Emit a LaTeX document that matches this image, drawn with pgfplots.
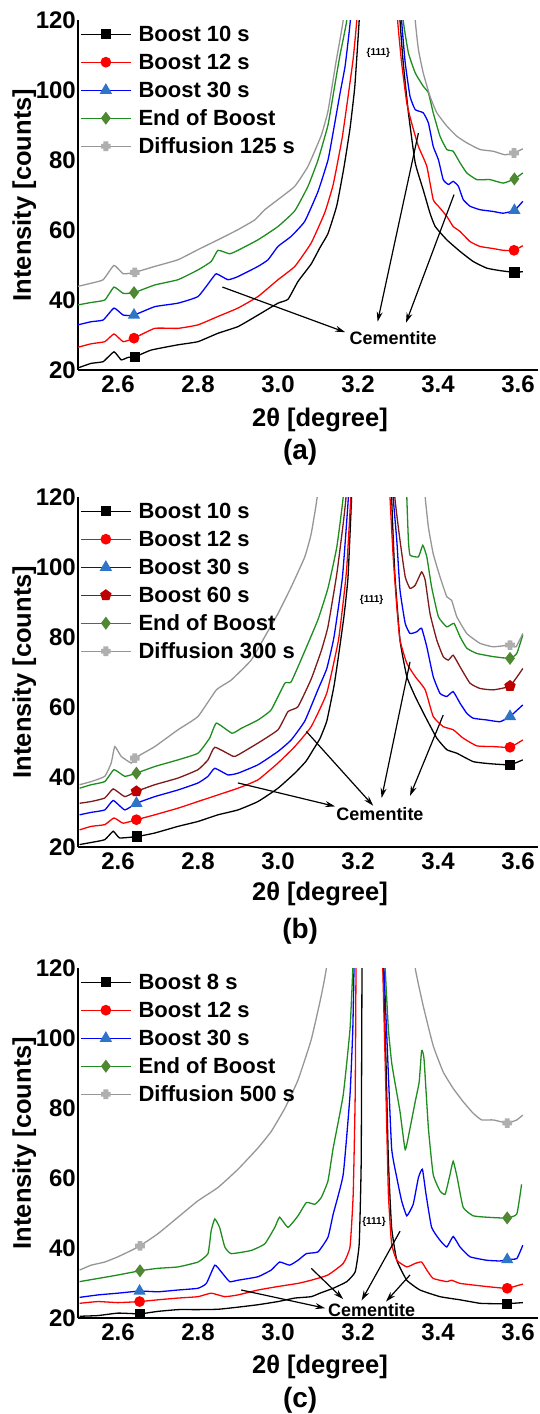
\documentclass[border=0pt]{standalone}
\usepackage{fontspec}
\setmainfont{Liberation Sans}
\usepackage{pgfplots}
\pgfplotsset{compat=1.18}
\usetikzlibrary{arrows.meta}
\definecolor{cred}{RGB}{255,0,0}
\definecolor{cblue}{RGB}{0,0,255}
\definecolor{ctri}{RGB}{46,117,200}
\definecolor{cgreen}{RGB}{30,140,30}
\definecolor{cdia}{RGB}{80,135,50}
\definecolor{cgray}{RGB}{150,150,150}
\definecolor{cgraym}{RGB}{175,175,175}
\definecolor{cdred}{RGB}{125,25,25}
\definecolor{cpent}{RGB}{190,0,0}
\pgfdeclareplotmark{fatplus}{%
 \pgfpathrectangle{\pgfqpoint{-\pgfplotmarksize}{-0.5\pgfplotmarksize}}{\pgfqpoint{2\pgfplotmarksize}{\pgfplotmarksize}}%
 \pgfpathrectangle{\pgfqpoint{-0.5\pgfplotmarksize}{-\pgfplotmarksize}}{\pgfqpoint{\pgfplotmarksize}{2\pgfplotmarksize}}%
 \pgfusepathqfill}
\tikzset{ar/.style={-{Stealth[length=10pt,width=6pt]},line width=1.2pt,black}}
\pgfplotsset{
 sK/.style={black,line width=1.3pt,mark=square*,mark size=4.5pt,mark options={fill=black,draw=black}},
 sR/.style={cred,line width=1.3pt,mark=*,mark size=4.7pt,mark options={fill=cred,draw=cred}},
 sB/.style={cblue,line width=1.3pt,mark=triangle*,mark size=5.8pt,mark options={fill=ctri,draw=ctri}},
 sG/.style={cgreen,line width=1.3pt,mark=diamond*,mark size=5.5pt,mark options={fill=cdia,draw=cdia}},
 sY/.style={cgray,line width=1.3pt,mark=fatplus,mark size=4.8pt,mark options={fill=cgraym,draw=cgraym}},
 sD/.style={cdred,line width=1.3pt,mark=pentagon*,mark size=5.2pt,mark options={fill=cpent,draw=cpent}},
 ln/.style={mark=none,forget plot,smooth,tension=0.25},
 panel/.style={width=460pt,height=350pt,scale only axis,clip mode=individual,
  xmin=2.5,xmax=3.65,ymin=20,ymax=120,
  axis lines=left, axis line style={-,line width=1.3pt,black},
  xtick={2.6,2.8,3.0,3.2,3.4,3.6}, ytick={20,40,60,80,100,120},
  major tick length=0pt,
  /pgf/number format/assume math mode=true,
  tick label style={font=\bfseries\fontsize{24}{28}\selectfont},
  xticklabel style={/pgf/number format/fixed,/pgf/number format/fixed zerofill,/pgf/number format/precision=1,inner sep=2pt,yshift=-4pt},
  yticklabel style={inner sep=2pt},
  label style={font=\bfseries\fontsize{25.5}{30}\selectfont},
  ylabel={Intensity [counts]},
  ylabel style={at={(axis description cs:-0.117,0.5)},anchor=center},
  xlabel={2θ [degree]},
  legend style={at={(axis description cs:0,1)},anchor=north west,xshift=2pt,yshift=-6pt,
   draw=none,fill=none,inner sep=0pt,row sep=12pt,
   font=\bfseries\fontsize{22}{26}\selectfont,
   nodes={inner sep=0pt,text height=15pt,text depth=1pt},
   /tikz/every odd column/.append style={column sep=7pt}},
  legend cell align=left,
  legend image code/.code={\draw[mark repeat=2,mark phase=2,##1] plot coordinates {(0pt,0pt) (25pt,0pt) (50pt,0pt)};},
 },
}
\begin{document}
\begin{tikzpicture}
\path[use as bounding box] (0pt,0pt) rectangle (539pt,-1414pt);
% ---------------- (a)
\begin{axis}[panel, at={(78pt,-370pt)}, anchor=south west,
  xlabel style={at={(axis description cs:0.526,-0.143)},anchor=center}]
\addlegendimage{sK}\addlegendimage{sR}\addlegendimage{sB}\addlegendimage{sG}\addlegendimage{sY}
\legend{Boost 10 s,Boost 12 s,Boost 30 s,End of Boost,Diffusion 125 s}
\addplot[sK,ln] coordinates {(2.5,20.6) (2.533,21.9) (2.563,22.4) (2.59,25.2) (2.608,22.9) (2.625,23.6) (2.643,23.8) (2.683,25.7) (2.75,27.2) (2.8,28.1) (2.85,30.5) (2.9,32.4) (2.95,35.7) (3.0,39.1) (3.025,40.2) (3.05,45.3) (3.083,50.3) (3.105,55) (3.125,59) (3.147,67) (3.165,78) (3.18,89) (3.192,101) (3.203,120) (3.207,132)};
\addplot[sK,ln] coordinates {(3.303,132) (3.305,120) (3.313,107.8) (3.326,93.5) (3.343,79.2) (3.363,71.5) (3.38,64.8) (3.393,61) (3.422,57.2) (3.455,53.9) (3.488,51) (3.522,49.1) (3.555,48.4) (3.591,47.9) (3.612,48.1)};
\addplot[sR,ln] coordinates {(2.5,26.5) (2.533,27.5) (2.567,28.1) (2.59,30.3) (2.613,28.1) (2.64,29.1) (2.692,31.9) (2.75,31.9) (2.8,32.9) (2.85,35.3) (2.9,37.7) (2.95,41) (3.0,45.8) (3.042,49.6) (3.083,56.3) (3.117,65) (3.138,73) (3.16,86) (3.175,98) (3.188,109) (3.197,120) (3.201,132)};
\addplot[sR,ln] coordinates {(3.297,132) (3.299,120) (3.309,107.8) (3.322,96.3) (3.334,90.6) (3.351,83.9) (3.372,78.2) (3.388,68.7) (3.401,66.8) (3.422,63.9) (3.438,61) (3.455,59.6) (3.48,56.7) (3.505,55.3) (3.538,54.7) (3.563,54.2) (3.59,54.2) (3.612,55.5)};
\addplot[sB,ln] coordinates {(2.5,32.9) (2.533,33.8) (2.563,34.3) (2.59,37.7) (2.613,35.7) (2.64,35.7) (2.692,38.1) (2.75,39.1) (2.8,41) (2.833,45.8) (2.846,47.5) (2.875,45.8) (2.9,46.7) (2.95,49.6) (2.975,51.5) (3.0,55.3) (3.033,58.2) (3.067,62.5) (3.1,71) (3.125,80) (3.138,88) (3.155,99) (3.168,107) (3.181,120) (3.185,132)};
\addplot[sB,ln] coordinates {(3.307,132) (3.309,120) (3.318,107.8) (3.33,98.2) (3.343,94.4) (3.363,93.5) (3.376,90.6) (3.388,83.9) (3.401,80.1) (3.413,74.4) (3.426,73) (3.438,73.9) (3.451,72.5) (3.463,68.7) (3.48,66.8) (3.505,65.8) (3.538,65.3) (3.563,64.8) (3.591,65.6) (3.612,68.2)};
\addplot[sG,ln] coordinates {(2.5,38.6) (2.533,39.3) (2.567,40) (2.59,43.7) (2.613,41.9) (2.64,42.1) (2.692,44.3) (2.75,45.8) (2.8,48.6) (2.833,51) (2.85,54.2) (2.879,53.2) (2.9,54.2) (2.95,57.2) (3.0,61) (3.042,65.5) (3.075,72.5) (3.1,80) (3.125,90) (3.14,100) (3.155,110) (3.172,120) (3.176,132)};
\addplot[sG,ln] coordinates {(3.311,132) (3.313,120) (3.326,110.6) (3.343,104.9) (3.363,101.1) (3.376,99.2) (3.388,93.5) (3.405,86.8) (3.422,83) (3.438,82.5) (3.455,79.2) (3.472,76.3) (3.497,74.4) (3.53,74.4) (3.563,73.4) (3.591,74.6) (3.612,76.3)};
\addplot[sY,ln] coordinates {(2.5,43.9) (2.533,44.8) (2.563,45.8) (2.59,49.9) (2.613,47.5) (2.642,47.9) (2.692,49.6) (2.75,51.5) (2.8,54.4) (2.85,57.2) (2.9,60.1) (2.942,62.9) (2.967,65.8) (3.0,68.7) (3.042,72.5) (3.075,78.2) (3.108,87) (3.125,94) (3.145,108) (3.163,120) (3.167,132)};
\addplot[sY,ln] coordinates {(3.339,132) (3.343,120) (3.351,111.6) (3.363,104.9) (3.38,98.2) (3.397,93.5) (3.422,89.7) (3.447,86.8) (3.472,84.9) (3.505,83) (3.538,82.5) (3.567,81.5) (3.59,82) (3.612,83.2)};
\addplot[sK,only marks,forget plot] coordinates {(2.643,23.8) (3.591,47.9)};
\addplot[sR,only marks,forget plot] coordinates {(2.64,29.1) (3.59,54.2)};
\addplot[sB,only marks,forget plot] coordinates {(2.64,35.7) (3.591,65.6)};
\addplot[sG,only marks,forget plot] coordinates {(2.64,42.1) (3.591,74.6)};
\addplot[sY,only marks,forget plot] coordinates {(2.642,47.9) (3.59,82)};
\node[font=\bfseries\fontsize{10}{12}\selectfont] at (axis cs:3.251,110.5) {\{111\}};
\node[font=\bfseries\fontsize{18}{21}\selectfont] at (axis cs:3.288,29.1) {Cementite};
\draw[ar] (axis cs:2.861,43.7) -- (axis cs:3.168,30.8);
\draw[ar] (axis cs:3.351,87.7) -- (axis cs:3.249,33.8);
\draw[ar] (axis cs:3.44,70.1) -- (axis cs:3.32,33.5);
\node[font=\bfseries\fontsize{28}{33}\selectfont] at (axis description cs:0.483,-0.234) {(a)};
\end{axis}
% ---------------- (b)
\begin{axis}[panel, at={(78pt,-847pt)}, anchor=south west,
  xlabel style={at={(axis description cs:0.526,-0.134)},anchor=center}]
\addlegendimage{sK}\addlegendimage{sR}\addlegendimage{sB}\addlegendimage{sD}\addlegendimage{sG}\addlegendimage{sY}
\legend{Boost 10 s,Boost 12 s,Boost 30 s,Boost 60 s,End of Boost,Diffusion 300 s}
\addplot[sK,ln] coordinates {(2.504,20.7) (2.533,21.3) (2.567,22.1) (2.588,24.5) (2.604,22.6) (2.648,23) (2.692,24) (2.75,25.9) (2.8,27.3) (2.85,29.2) (2.9,30.6) (2.95,33) (3.0,36.8) (3.042,41.1) (3.07,44.5) (3.088,47.8) (3.105,51) (3.122,56) (3.14,66) (3.151,74.4) (3.165,86) (3.175,97) (3.184,120) (3.187,132)};
\addplot[sK,ln] coordinates {(3.282,132) (3.284,120) (3.292,98.1) (3.305,79.1) (3.322,68.7) (3.343,63) (3.368,57.3) (3.397,51.1) (3.422,47.8) (3.447,46.8) (3.488,44.4) (3.53,43.8) (3.58,43.5) (3.612,44.9)};
\addplot[sR,ln] coordinates {(2.504,24.9) (2.533,25.9) (2.567,26.4) (2.59,28.3) (2.613,26.8) (2.646,27.8) (2.692,29.2) (2.75,31.1) (2.8,33) (2.85,34.9) (2.9,36.8) (2.95,39.2) (3.0,44) (3.042,48.7) (3.083,54.4) (3.122,64) (3.151,79) (3.165,92) (3.172,100) (3.182,120) (3.185,132)};
\addplot[sR,ln] coordinates {(3.278,132) (3.28,120) (3.288,102.9) (3.297,88.6) (3.305,79.1) (3.322,72.5) (3.343,68.7) (3.368,64.9) (3.388,57.3) (3.413,54.4) (3.438,53.5) (3.463,51.1) (3.497,48.9) (3.538,48.7) (3.58,48.5) (3.612,50.6)};
\addplot[sB,ln] coordinates {(2.504,29.2) (2.533,29.9) (2.567,30.6) (2.588,33.3) (2.617,30.6) (2.646,32.5) (2.692,34.4) (2.75,36.3) (2.8,38.3) (2.825,40.2) (2.842,42.5) (2.875,40.6) (2.9,41.1) (2.95,43.5) (3.0,47.3) (3.033,50.6) (3.067,56) (3.1,65) (3.122,71) (3.14,80) (3.161,97) (3.176,120) (3.179,132)};
\addplot[sB,ln] coordinates {(3.286,132) (3.288,120) (3.297,107.6) (3.305,93.4) (3.318,83.9) (3.33,81) (3.347,81.5) (3.359,82.5) (3.372,77.2) (3.388,68.7) (3.405,63.9) (3.422,63) (3.438,64.4) (3.455,61.1) (3.472,58.2) (3.488,56.8) (3.522,56.3) (3.555,55.8) (3.58,57.3) (3.612,60.6)};
\addplot[sD,ln] coordinates {(2.504,32.5) (2.533,33) (2.567,34) (2.588,36.6) (2.617,34.4) (2.646,35.9) (2.692,37.8) (2.75,39.7) (2.8,42.1) (2.825,44.9) (2.842,48.5) (2.888,45.9) (2.9,46.3) (2.95,49.7) (3.0,53.5) (3.025,58.7) (3.05,60.1) (3.083,68) (3.108,76) (3.125,83) (3.147,98) (3.163,112.4) (3.17,120) (3.173,132)};
\addplot[sD,ln] coordinates {(3.29,132) (3.292,120) (3.305,107.6) (3.318,97.2) (3.33,93.9) (3.343,94.8) (3.359,98.6) (3.368,96.2) (3.38,86.7) (3.397,79.1) (3.413,74.4) (3.426,73.4) (3.438,74.8) (3.455,71.5) (3.48,66.8) (3.505,65.3) (3.538,64.9) (3.58,66) (3.612,71)};
\addplot[sG,ln] coordinates {(2.504,36.8) (2.533,37.8) (2.567,38.7) (2.59,42.1) (2.617,40.2) (2.646,41.1) (2.692,43) (2.75,44.9) (2.8,46.8) (2.829,51.1) (2.846,55.4) (2.885,52.5) (2.908,53.9) (2.95,56.3) (2.983,59.2) (3.017,66.8) (3.033,67.2) (3.067,76) (3.1,85) (3.125,94) (3.147,105.7) (3.163,120) (3.167,132)};
\addplot[sG,ln] coordinates {(3.32,132) (3.322,120) (3.326,107.6) (3.33,103.4) (3.351,102.9) (3.362,106.2) (3.372,102.9) (3.384,94.3) (3.401,85.8) (3.422,82.9) (3.44,83.9) (3.455,80.1) (3.472,76.8) (3.497,75.3) (3.538,74.4) (3.58,73.9) (3.597,75.3) (3.612,80.6)};
\addplot[sY,ln] coordinates {(2.504,37.8) (2.533,38.7) (2.567,40.2) (2.583,44) (2.592,48.7) (2.608,45.9) (2.633,44) (2.642,45.4) (2.692,48.7) (2.75,53.5) (2.8,57.3) (2.846,64.9) (2.883,67.7) (2.933,73.4) (2.967,80.1) (3.0,86.7) (3.033,94.3) (3.067,102.9) (3.083,109.5) (3.098,120) (3.105,132)};
\addplot[sY,ln] coordinates {(3.362,132) (3.368,120) (3.376,111.4) (3.388,103.8) (3.405,97.2) (3.422,91.5) (3.434,90.5) (3.447,85.8) (3.472,81) (3.505,78.2) (3.538,77.2) (3.58,77.7) (3.595,77.2) (3.612,81)};
\addplot[sK,only marks,forget plot] coordinates {(2.648,23) (3.58,43.5)};
\addplot[sR,only marks,forget plot] coordinates {(2.646,27.8) (3.58,48.5)};
\addplot[sB,only marks,forget plot] coordinates {(2.646,32.5) (3.58,57.3)};
\addplot[sD,only marks,forget plot] coordinates {(2.646,35.9) (3.58,66)};
\addplot[sG,only marks,forget plot] coordinates {(2.646,41.1) (3.58,73.9)};
\addplot[sY,only marks,forget plot] coordinates {(2.642,45.4) (3.58,77.7)};
\node[font=\bfseries\fontsize{10}{12}\selectfont] at (axis cs:3.234,90.5) {\{111\}};
\node[font=\bfseries\fontsize{18}{21}\selectfont] at (axis cs:3.255,29.5) {Cementite};
\draw[ar] (axis cs:2.9,38.3) -- (axis cs:3.143,31.6);
\draw[ar] (axis cs:3.071,53) -- (axis cs:3.238,31.8);
\draw[ar] (axis cs:3.33,72.9) -- (axis cs:3.259,34);
\draw[ar] (axis cs:3.413,57.7) -- (axis cs:3.33,34.6);
\node[font=\bfseries\fontsize{28}{33}\selectfont] at (axis description cs:0.483,-0.241) {(b)};
\end{axis}
% ---------------- (c)
\begin{axis}[panel, at={(78pt,-1318pt)}, anchor=south west,
  xlabel style={at={(axis description cs:0.526,-0.141)},anchor=center}]
\addlegendimage{sK}\addlegendimage{sR}\addlegendimage{sB}\addlegendimage{sG}\addlegendimage{sY}
\legend{Boost 8 s,Boost 12 s,Boost 30 s,End of Boost,Diffusion 500 s}
\addplot[sK,ln] coordinates {(2.504,20.5) (2.55,20.7) (2.6,21.4) (2.655,21.2) (2.7,21.9) (2.75,22.4) (2.8,22.4) (2.85,22.5) (2.9,23.1) (2.95,23.8) (3.0,24.7) (3.042,25.7) (3.083,26.1) (3.105,27.1) (3.138,28.5) (3.172,30.4) (3.193,33.2) (3.203,41.2) (3.208,64.8) (3.21,120) (3.211,132)};
\addplot[sK,ln] coordinates {(3.262,132) (3.263,120) (3.27,93.1) (3.276,64.8) (3.284,45.9) (3.297,36.5) (3.322,30.8) (3.355,28) (3.405,26.1) (3.455,25.2) (3.505,24.2) (3.538,24.1) (3.573,24.1) (3.612,24.4)};
\addplot[sR,ln] coordinates {(2.504,24.2) (2.55,24.7) (2.6,24.4) (2.654,24.7) (2.7,25.2) (2.75,25.7) (2.8,26.1) (2.833,27.1) (2.867,26.1) (2.9,26.6) (2.95,28) (3.0,29) (3.05,29.9) (3.083,30.8) (3.125,32.3) (3.163,35.6) (3.18,40.3) (3.188,55.4) (3.193,83.7) (3.195,120) (3.196,132)};
\addplot[sR,ln] coordinates {(3.261,132) (3.262,120) (3.27,83.7) (3.276,55.4) (3.284,41.2) (3.297,36.5) (3.322,34.6) (3.343,35.6) (3.359,36) (3.372,33.7) (3.388,31.3) (3.422,30.4) (3.434,30.8) (3.455,29.9) (3.505,29.2) (3.538,28.8) (3.573,28.5) (3.612,29.7)};
\addplot[sB,ln] coordinates {(2.504,25.9) (2.55,26.6) (2.6,27.1) (2.654,27.7) (2.7,27.5) (2.75,28) (2.8,28.5) (2.821,29.9) (2.842,35.1) (2.858,33.2) (2.879,30.4) (2.9,30.8) (2.95,31.8) (2.983,33.7) (3.004,36) (3.029,35.1) (3.05,36.5) (3.071,38.4) (3.1,38.9) (3.125,43.1) (3.138,49.7) (3.163,61) (3.18,83.7) (3.187,102.5) (3.19,120) (3.191,132)};
\addplot[sB,ln] coordinates {(3.264,132) (3.265,120) (3.273,97.8) (3.284,68.6) (3.297,60.1) (3.309,53.5) (3.322,49.2) (3.338,52.5) (3.351,60.1) (3.361,62.5) (3.37,55.4) (3.384,45.9) (3.405,42.2) (3.422,40.3) (3.438,43.3) (3.455,40.3) (3.48,37.5) (3.522,36.5) (3.555,36.3) (3.573,36.7) (3.597,37) (3.612,40.8)};
\addplot[sG,ln] coordinates {(2.504,30.4) (2.55,31.3) (2.6,32.3) (2.655,33.5) (2.7,34.2) (2.75,34.6) (2.8,36) (2.825,38.4) (2.833,45) (2.842,48.3) (2.854,45.9) (2.867,40.3) (2.883,38.4) (2.933,39.3) (2.967,41.2) (2.992,45.9) (3.004,48.8) (3.025,45.9) (3.05,49.2) (3.071,53) (3.092,52.5) (3.108,54.4) (3.125,59.2) (3.138,68.6) (3.163,83.7) (3.18,102.5) (3.187,120) (3.188,132)};
\addplot[sG,ln] coordinates {(3.267,132) (3.268,120) (3.276,102.5) (3.284,93.1) (3.292,87.5) (3.305,79) (3.318,68.1) (3.33,74.2) (3.343,81.8) (3.353,87.5) (3.359,96.4) (3.365,94.1) (3.376,74.2) (3.388,61) (3.405,56.3) (3.418,55.4) (3.43,61) (3.438,64.8) (3.448,60.1) (3.463,51.6) (3.488,49.2) (3.522,48.8) (3.555,48.6) (3.573,48.6) (3.597,49.7) (3.609,58.2)};
\addplot[sY,ln] coordinates {(2.504,33.7) (2.533,35.1) (2.567,36) (2.6,37.5) (2.633,39.3) (2.655,40.6) (2.7,44.1) (2.75,48.8) (2.8,53.5) (2.85,57.3) (2.9,62.5) (2.95,68.6) (2.983,73.3) (3.017,79.9) (3.05,88) (3.083,99.5) (3.108,112) (3.121,120) (3.128,132)};
\addplot[sY,ln] coordinates {(3.335,132) (3.343,120) (3.363,109.2) (3.388,97.8) (3.413,90.3) (3.438,85.6) (3.463,81.8) (3.488,78.5) (3.509,76.6) (3.538,76.6) (3.573,75.7) (3.597,76.6) (3.612,78)};
\addplot[sK,only marks,forget plot] coordinates {(2.655,21.2) (3.573,24.1)};
\addplot[sR,only marks,forget plot] coordinates {(2.654,24.7) (3.573,28.5)};
\addplot[sB,only marks,forget plot] coordinates {(2.654,27.7) (3.573,36.7)};
\addplot[sG,only marks,forget plot] coordinates {(2.655,33.5) (3.573,48.6)};
\addplot[sY,only marks,forget plot] coordinates {(2.655,40.6) (3.573,75.7)};
\node[font=\bfseries\fontsize{10}{12}\selectfont] at (axis cs:3.24,47.4) {\{111\}};
\node[font=\bfseries\fontsize{18}{21}\selectfont] at (axis cs:3.234,22.2) {Cementite};
\draw[ar] (axis cs:2.908,28) -- (axis cs:3.118,22.8);
\draw[ar] (axis cs:3.083,34.2) -- (axis cs:3.163,25.4);
\draw[ar] (axis cs:3.305,44.8) -- (axis cs:3.209,25);
\draw[ar] (axis cs:3.33,32.3) -- (axis cs:3.27,24.7);
\node[font=\bfseries\fontsize{28}{33}\selectfont] at (axis description cs:0.483,-0.236) {(c)};
\end{axis}
\end{tikzpicture}
\end{document}
